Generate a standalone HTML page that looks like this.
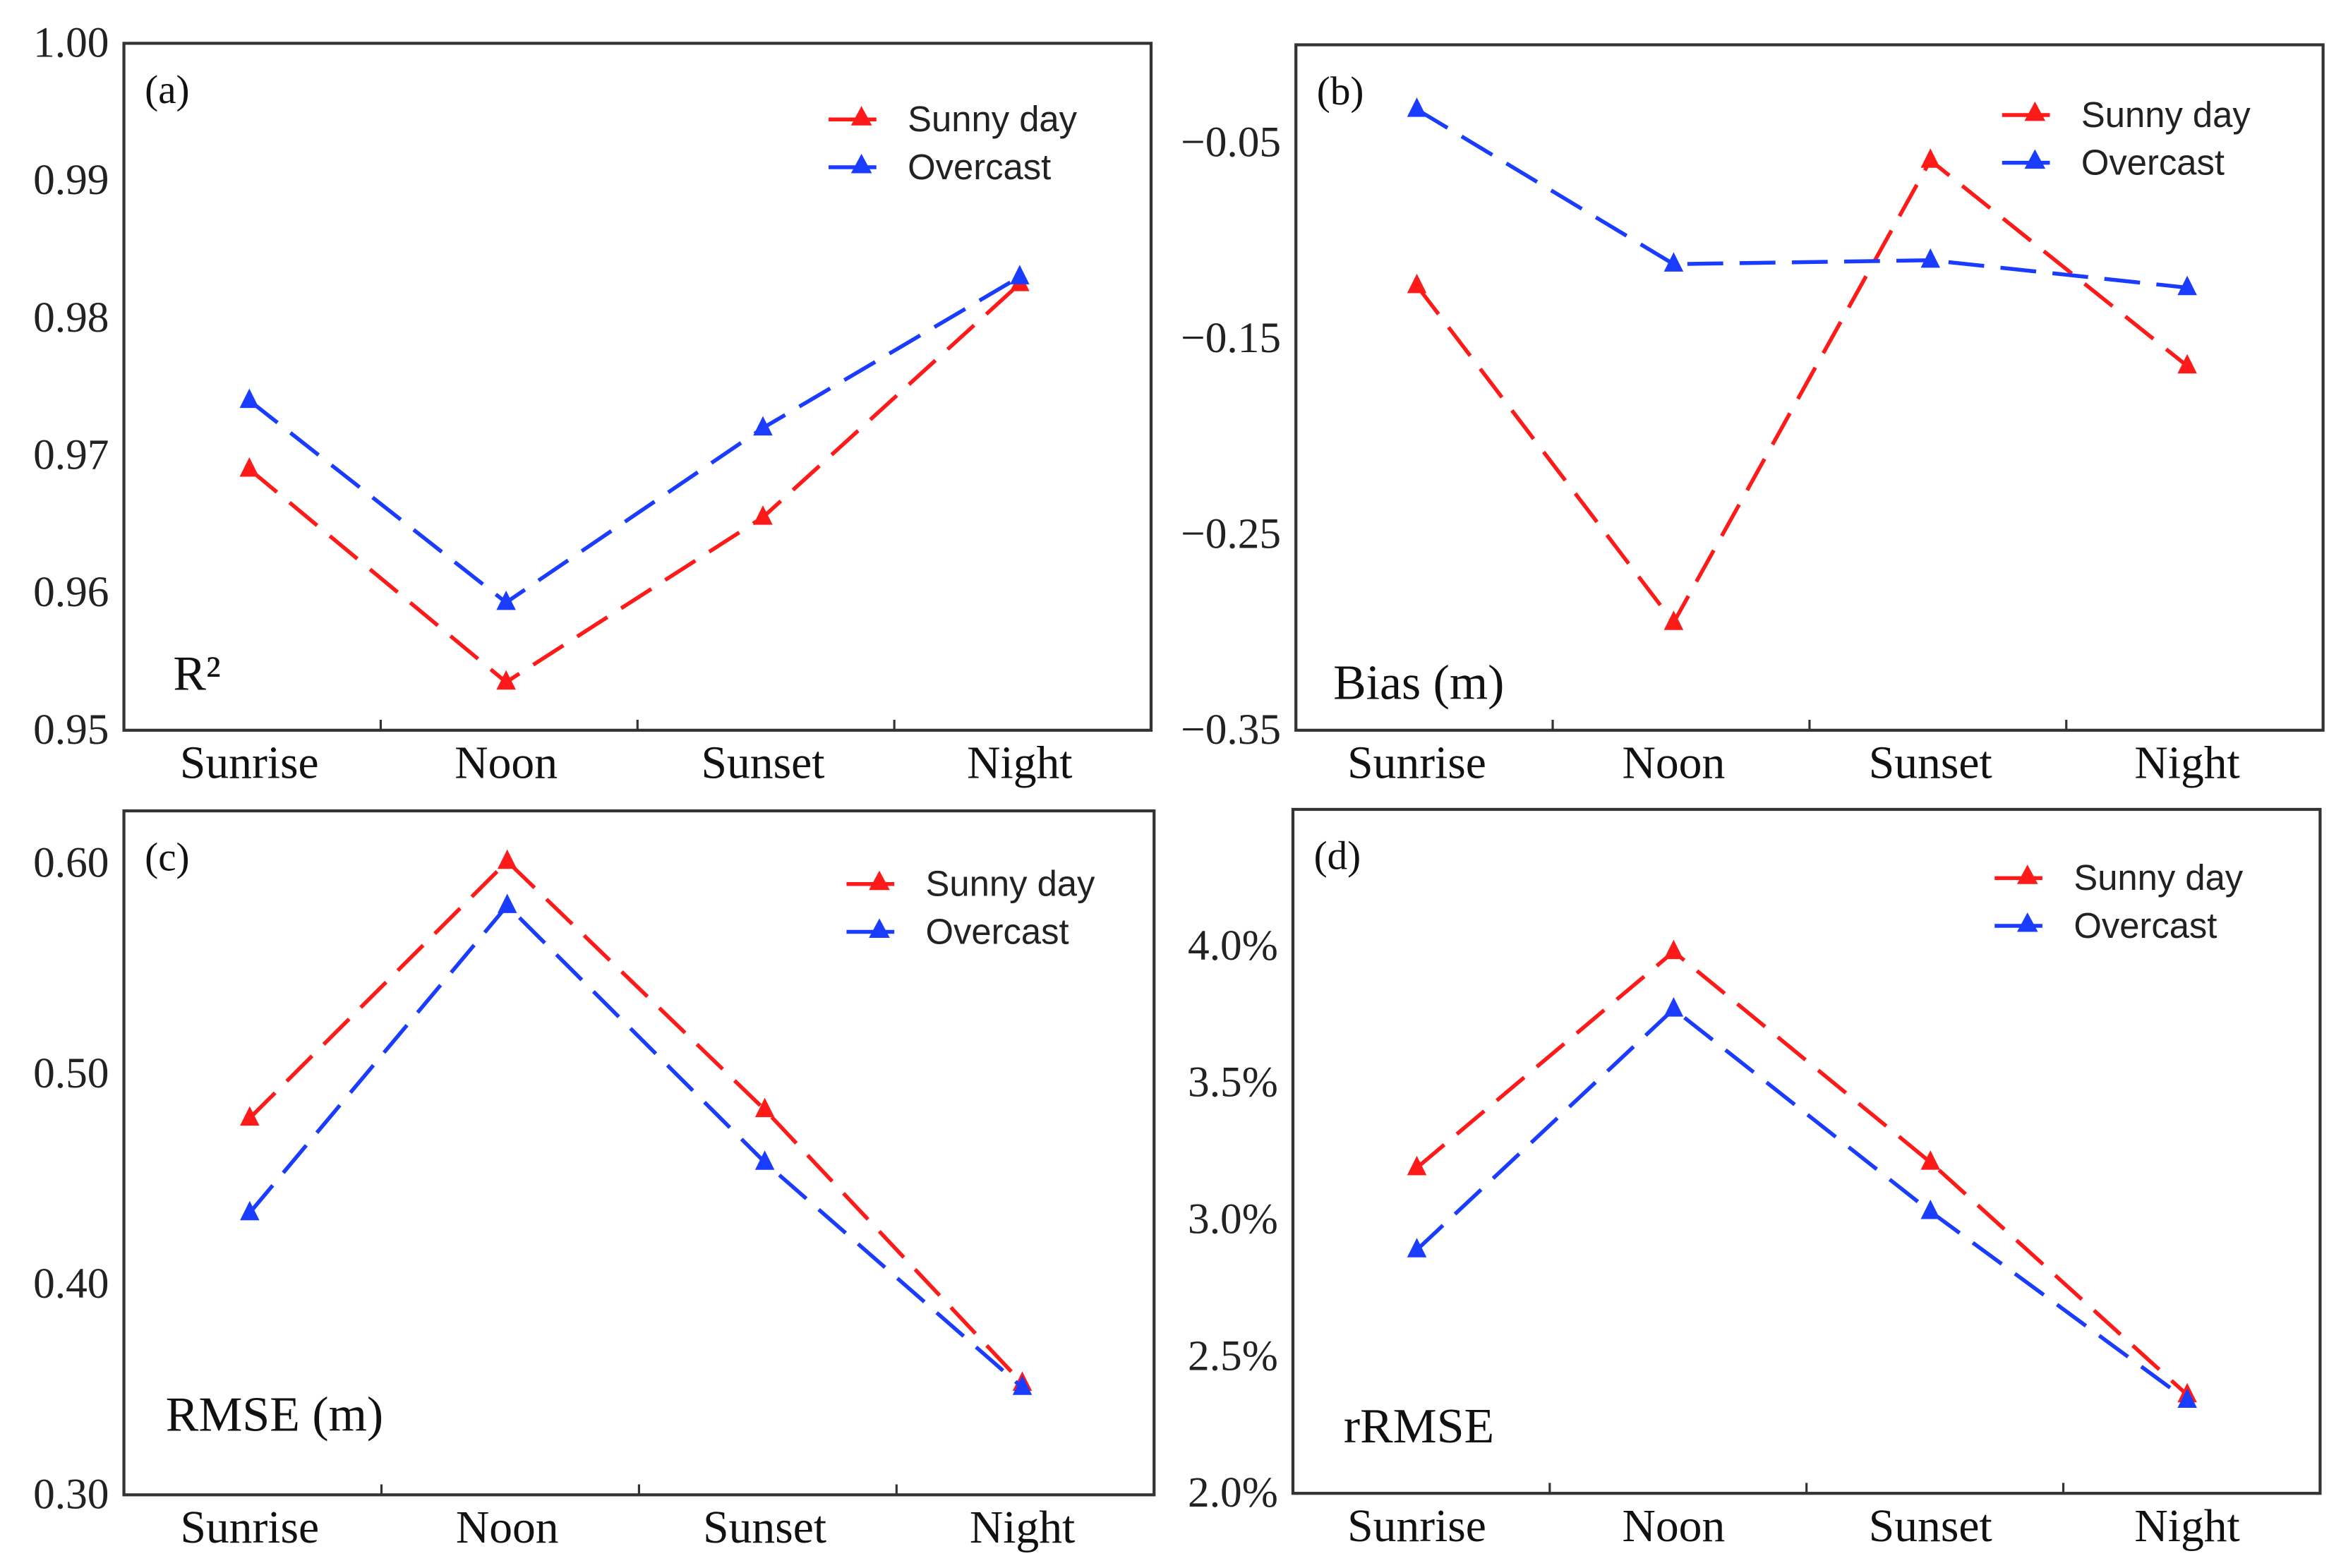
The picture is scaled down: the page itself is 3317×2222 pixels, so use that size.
<!DOCTYPE html>
<html><head><meta charset="utf-8"><style>
html,body{margin:0;padding:0;background:#fff;}
svg{display:block;}
.tick{font-family:"Liberation Serif",serif;font-size:29px;fill:#222;}
.cat{font-family:"Liberation Serif",serif;font-size:31px;fill:#111;}
.leg{font-family:"Liberation Sans",sans-serif;font-size:24px;fill:#222;}
.plab{font-family:"Liberation Serif",serif;font-size:27px;fill:#111;}
.mlab{font-family:"Liberation Serif",serif;font-size:33px;fill:#111;}
</style></head><body>
<svg id="fig" width="3317" height="2222" viewBox="0 0 1568 1050" preserveAspectRatio="none" xmlns="http://www.w3.org/2000/svg"></svg>
<script>
const categories = ["Sunrise","Noon","Sunset","Night"];
const r2Sunny = [0.969, 0.9535, 0.9655, 0.9825];
const r2Overcast = [0.974, 0.9593, 0.972, 0.983];
const r2Ticks = [0.95, 0.96, 0.97, 0.98, 0.99, 1.00];
const r2TickLabels = ["0.95","0.96","0.97","0.98","0.99","1.00"];
const biasSunny = [-0.123, -0.295, -0.059, -0.164];
const biasOvercast = [-0.033, -0.112, -0.110, -0.124];
const biasTicks = [-0.35, -0.25, -0.15, -0.05];
const biasTickLabels = ["\u22120.35","\u22120.25","\u22120.15","\u22120.05"];
const rmseSunny = [0.479, 0.601, 0.483, 0.353];
const rmseOvercast = [0.434, 0.580, 0.458, 0.351];
const rmseTicks = [0.30, 0.40, 0.50, 0.60];
const rmseTickLabels = ["0.30","0.40","0.50","0.60"];
const rrmseSunny = [3.19, 3.98, 3.21, 2.36];
const rrmseOvercast = [2.89, 3.77, 3.03, 2.34];
const rrmseTicks = [2.0, 2.5, 3.0, 3.5, 4.0];
const rrmseTickLabels = ["2.0%","2.5%","3.0%","3.5%","4.0%"];

const NS="http://www.w3.org/2000/svg";
const svg=document.getElementById('fig');
function mk(tag,attrs,parent){const e=document.createElementNS(NS,tag);for(const k in attrs)e.setAttribute(k,attrs[k]);(parent||svg).appendChild(e);return e;}

function panel(cfg){
  const g=mk('g',{});
  
  
  const {x0,x1,y0,y1,vmin,vmax}=cfg;
  const yS=v=>y1-(v-vmin)/(vmax-vmin)*(y1-y0);
  const bw=(x1-x0)/categories.length;
  const xS=i=>x0+bw*(i+0.5)+cfg.xoff;
  const fr=mk('rect',{x:x0,y:y0,width:x1-x0,height:y1-y0,fill:'none',stroke:'#333','stroke-width':2},g);
  
  
  cfg.ticks.forEach((t,i)=>{
    const tx=mk('text',{x:x0-10,y:yS(t)+9,'text-anchor':'end',class:'tick'},g);
    tx.textContent=cfg.tickLabels[i];
    
    
  });
  for(let i=1;i<categories.length;i++){
    const l=mk('line',{x1:x0+bw*i,x2:x0+bw*i,y1:y1,y2:y1-7,stroke:'#333','stroke-width':1.5},g);
    
    
  }
  categories.forEach((c,i)=>{
    const tx=mk('text',{x:x0+bw*(i+0.5)+cfg.xoff,y:y1+32,'text-anchor':'middle',class:'cat'},g);
    tx.textContent=c;
    
    
  });
  const series=[{d:cfg.sunny,c:'#ff1a1a',n:'sunny-day-series'},{d:cfg.overcast,c:'#1a3cff',n:'overcast-series'}];
  series.forEach(s=>{
    const pts=s.d.map((v,i)=>xS(i)+','+yS(v)).join(' ');
    const pl=mk('polyline',{points:pts,fill:'none',stroke:s.c,'stroke-width':2.6,'stroke-dasharray':'24 11'},g);
    
    
    s.d.forEach((v,i)=>{
      const cx=xS(i),cy=yS(v);
      const tr=mk('polygon',{points:`${cx},${cy-8} ${cx-6.5},${cy+5} ${cx+6.5},${cy+5}`,fill:s.c},g);
      
      
    });
  });
  const lx=cfg.legX, ly=cfg.legY;
  [['Sunny day','#ff1a1a'],['Overcast','#1a3cff']].forEach((e,k)=>{
    const yy=ly+k*32;
    const lg=mk('g',{},g);
    
    
    mk('line',{x1:lx,x2:lx+32,y1:yy,y2:yy,stroke:e[1],'stroke-width':2.6},lg);
    mk('polygon',{points:`${lx+22},${yy-9} ${lx+15},${yy+4} ${lx+29},${yy+4}`,fill:e[1]},lg);
    const t=mk('text',{x:lx+53,y:yy+8,class:'leg'},lg);
    t.textContent=e[0];
  });
  const pl=mk('text',{x:x0+14,y:y0+40,class:'plab'},g);
  pl.textContent=cfg.plab;
  
  
  const ml=mk('text',{x:cfg.mx,y:cfg.my,class:'mlab'},g);
  ml.textContent=cfg.mlab;
  
  
}

panel({name:'panel-a-r2',x0:83,x1:771,y0:29,y1:489,vmin:0.95,vmax:1.00,xoff:-2,ticks:r2Ticks,tickLabels:r2TickLabels,sunny:r2Sunny,overcast:r2Overcast,legX:555,legY:80,plab:'(a)',mlab:'R\u00B2',mx:116,my:462});
panel({name:'panel-b-bias',x0:868,x1:1556,y0:30,y1:489,vmin:-0.35,vmax:0.0,xoff:-5,ticks:biasTicks,tickLabels:biasTickLabels,sunny:biasSunny,overcast:biasOvercast,legX:1341,legY:77,plab:'(b)',mlab:'Bias (m)',mx:893,my:468});
panel({name:'panel-c-rmse',x0:83,x1:773,y0:543,y1:1001,vmin:0.30,vmax:0.625,xoff:-2,ticks:rmseTicks,tickLabels:rmseTickLabels,sunny:rmseSunny,overcast:rmseOvercast,legX:567,legY:592,plab:'(c)',mlab:'RMSE (m)',mx:111,my:958});
panel({name:'panel-d-rrmse',x0:866,x1:1554,y0:542,y1:1000,vmin:2.0,vmax:4.5,xoff:-3,ticks:rrmseTicks,tickLabels:rrmseTickLabels,sunny:rrmseSunny,overcast:rrmseOvercast,legX:1336,legY:588,plab:'(d)',mlab:'rRMSE',mx:900,my:966});
</script>
</body></html>
